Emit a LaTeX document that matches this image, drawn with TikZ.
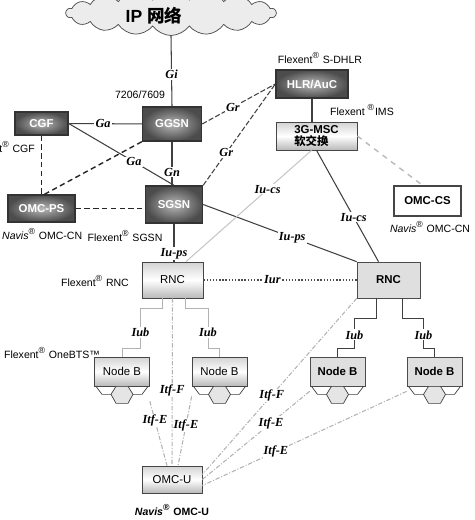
\documentclass[tikz,border=0pt]{standalone}
\usepackage{fontspec}
\setmainfont{Liberation Sans}
\newfontfamily\cjk{Noto Sans CJK SC}
\newfontfamily\lblfont{Liberation Serif}
\usetikzlibrary{shapes.symbols}

\begin{document}
\begin{tikzpicture}
  [x=0.02cm, y=-0.02cm,
   every node/.style={font=\fontsize{6}{7}\selectfont},
   darkbox/.style={draw=black!80, thick, inner color=gray!55, outer color=black!70,
     text=white, font=\fontsize{6.5}{7}\selectfont\bfseries},
   lightbox/.style={draw=gray!55!black, top color=gray!35, bottom color=gray!55,
     middle color=white, font=\fontsize{6.5}{7}\selectfont},
   flatbox/.style={draw=gray!60!black, fill=gray!25, font=\fontsize{6.5}{7}\selectfont\bfseries},
   lbl/.style={font=\lblfont\fontsize{7}{8}\selectfont\bfseries\itshape, fill=white, inner sep=0.6pt},
   link/.style={draw=black!75, semithick},
   grlink/.style={draw=gray!50!black, semithick, dash pattern=on 3pt off 1.2pt},
   omlink/.style={draw=black!85, thick, dash pattern=on 3pt off 2pt},
   itf/.style={draw=gray!60, semithick, dash pattern=on 2.5pt off 1pt on 0.6pt off 1pt},
   ]
  \useasboundingbox (0,0) rectangle (474,520);

  % core network
  \node[cloud, cloud puffs=18, cloud puff arc=110, cloud ignores aspect,
        draw=gray!55!black, fill=gray!15, minimum width=4.2cm, minimum height=0.9cm] (ip) at (171,13) {};
  \node (iptxt) at (154,16) {\fontsize{10}{11}\selectfont\bfseries IP {\cjk 网络}};

  \node[darkbox, minimum width=1.18cm, minimum height=0.68cm] (ggsn) at (172,124) {GGSN};
  \node[darkbox, minimum width=1.06cm, minimum height=0.46cm] (cgf) at (41.5,123.5) {CGF};
  \node[darkbox, minimum width=1.34cm, minimum height=0.54cm] (omcps) at (41.5,208.5) {OMC-PS};
  \node[darkbox, minimum width=1.14cm, minimum height=0.74cm] (sgsn) at (174,204.5) {SGSN};
  \node[darkbox, minimum width=1.44cm, minimum height=0.56cm] (hlr) at (312,84) {HLR/AuC};
  \node[lightbox, font=\fontsize{6.5}{7}\selectfont\bfseries, align=left,
        minimum width=1.62cm, minimum height=0.56cm, inner sep=1pt] (msc) at (316.5,136) {3G-MSC\\{\cjk 软交换}};
  \node[draw=gray!55!black, thick, fill=white, font=\fontsize{6.5}{7}\selectfont\bfseries,
        minimum width=1.34cm, minimum height=0.6cm] (omccs) at (427.5,201) {OMC-CS};

  % radio network
  \node[lightbox, minimum width=1.22cm, minimum height=0.72cm] (rnc1) at (172.5,280) {RNC};
  \node[flatbox, minimum width=1.26cm, minimum height=0.72cm] (rnc2) at (388.5,280) {RNC};
  \node[lightbox, minimum width=1.1cm, minimum height=0.58cm] (nb1) at (122,371.5) {Node B};
  \node[lightbox, minimum width=1.1cm, minimum height=0.58cm] (nb2) at (219.5,371.5) {Node B};
  \node[flatbox, minimum width=1.1cm, minimum height=0.58cm] (nb3) at (337.5,371.5) {Node B};
  \node[flatbox, minimum width=1.1cm, minimum height=0.58cm] (nb4) at (434.5,371.5) {Node B};
  \node[lightbox, minimum width=1.2cm, minimum height=0.54cm] (omcu) at (172,479.5) {OMC-U};

  \foreach \nb in {nb1,nb2,nb3,nb4}{
    \begin{scope}[shift={(\nb.south)}]
      \draw[gray!50!black, fill=gray!20] (-6,0) -- (6,0) -- (11,8) -- (6,17) -- (-6,17) -- (-11,8) -- cycle;
      \draw[gray!50!black] (-26,0) -- (-20,8) -- (-11,8) (11,8) -- (20,8) -- (26,0);
    \end{scope}
  }

  % product names
  \node (t7206) at (140,95) {7206/7609};
  \node[anchor=east] (flxcgf) at (41,147) {Flexent\textsuperscript{®} CGF};
  \node[anchor=west] (navisps) at (-4,234) {\textit{Navis}\textsuperscript{®} OMC-CN};
  \node (flxsgsn) at (125,236) {Flexent\textsuperscript{®} SGSN};
  \node (flxhlr) at (320,58) {Flexent\textsuperscript{®} S-DHLR};
  \node (flxims) at (362,110) {Flexent \textsuperscript{®}IMS};
  \node (naviscs) at (430,227) {\textit{Navis}\textsuperscript{®} OMC-CN};
  \node (flxrnc) at (95,281) {Flexent\textsuperscript{®} RNC};
  \node (flxbts) at (52,353) {Flexent\textsuperscript{®} OneBTS™};
  \node (navisu) at (172,510) {\bfseries\textit{Navis}\textsuperscript{®} OMC-U};

  % interfaces
  \draw[link] (ip.south) -- node[lbl,pos=.55]{Gi} (ggsn.north);
  \draw[link] (cgf) -- node[lbl,pos=.47]{Ga} (ggsn);
  \draw[link] (cgf.east) -- node[lbl,pos=.62]{Ga} (sgsn.north);
  \draw[link] (ggsn.south) -- node[lbl,pos=.7]{Gn} (ggsn.south |- sgsn.north);
  \draw[grlink] (ggsn.east) -- node[lbl,pos=.42]{Gr} (hlr.west);
  \draw[grlink] (sgsn.north east) -- node[lbl,pos=.32]{Gr} (hlr.west);
  \draw[link] (hlr.south) -- (hlr.south |- msc.north);
  \draw[draw=gray!55, thick, dashed] (msc.east) -- ([xshift=-0.1cm]omccs.north);

  \draw[omlink] (cgf.south) -- (omcps.north);
  \draw[omlink] ([xshift=0.06cm]omcps.north) -- (ggsn.south west);
  \draw[omlink] (omcps.east) -- (sgsn.west |- omcps.east);

  \draw[link] (sgsn.south) -- node[lbl,pos=.78]{Iu-ps} (sgsn.south |- rnc1.north);
  \draw[link] (sgsn.east) -- node[lbl,pos=.58]{Iu-ps} (rnc2.north west);
  \draw[link] (msc.south) -- node[lbl,pos=.6]{Iu-cs} ([xshift=-0.2cm]rnc2.north);
  \draw[draw=gray!45, semithick] ([xshift=-0.1cm]msc.south) -- node[lbl,pos=.35]{Iu-cs} ([xshift=0.27cm]rnc1.north);
  \draw[draw=black!70, thick, densely dotted] (rnc1) -- node[lbl,pos=.45]{Iur} (rnc2);

  \draw[draw=gray!60] ([xshift=-0.2cm]rnc1.south) -- ++(0,10) -- ++(-22,0)
    -- ++(0,40) node[lbl,pos=.6]{Iub} -| (nb1.north);
  \draw[draw=gray!60] ([xshift=0.25cm]rnc1.south) -- ++(0,10) -- ++(23,0)
    -- ++(0,40) node[lbl,pos=.6]{Iub} -| (nb2.north);
  \draw[draw=gray!50!black] ([xshift=-0.24cm]rnc2.south) -- ++(0,20) -- ++(-22,0)
    -- ++(0,30) node[lbl,pos=.55]{Iub} -| (nb3.north);
  \draw[draw=gray!50!black] ([xshift=0.28cm]rnc2.south) -- ++(0,20) -- ++(21,0)
    -- ++(0,30) node[lbl,pos=.55]{Iub} -| (nb4.north);

  \draw[itf] (rnc1.south) -- node[lbl,pos=.55]{Itf-F} (omcu.north);
  \draw[itf] ([yshift=-0.3cm]nb1.south east) -- node[lbl,pos=.3]{Itf-E} ([xshift=-0.1cm]omcu.north);
  \draw[itf] ([yshift=-0.2cm]nb2.south west) -- node[lbl,pos=.42]{Itf-E} ([xshift=0.12cm]omcu.north);
  \draw[itf] (rnc2.south west) -- node[lbl,pos=.55]{Itf-F} ([yshift=0.1cm]omcu.east);
  \draw[itf] ([yshift=-0.1cm]nb3.south west) -- node[lbl,pos=.36]{Itf-E} (omcu.east);
  \draw[itf] ([yshift=-0.1cm]nb4.south west) -- node[lbl,pos=.64]{Itf-E} ([yshift=-0.12cm]omcu.east);
\end{tikzpicture}
\end{document}
